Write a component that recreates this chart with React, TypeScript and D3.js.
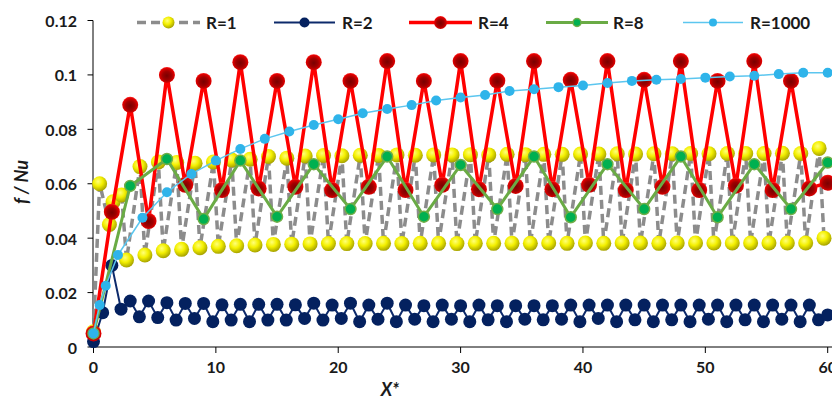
import React from "react";
import * as d3 from "d3";

// ---------- DATA ----------
const xTicks = [0, 10, 20, 30, 40, 50, 60];
const yTicks = [0, 0.02, 0.04, 0.06, 0.08, 0.1, 0.12];
const yTickLabels = ["0", "0.02", "0.04", "0.06", "0.08", "0.1", "0.12"];
const seriesNames = ["R=1", "R=2", "R=4", "R=8", "R=1000"];

const r1: [number, number][] = [
  [0, 0.0056], [0.5, 0.06], [1.3, 0.045], [1.6, 0.0534], [2.3, 0.0559], [2.7, 0.032],
  [3.8, 0.0663], [4.2, 0.0338], [5.3, 0.068], [5.7, 0.0354], [6.8, 0.0678], [7.2, 0.0359],
  [8.3, 0.0675], [8.7, 0.0365], [9.8, 0.068], [10.2, 0.037], [11.3, 0.0687], [11.7, 0.0372],
  [12.8, 0.069], [13.2, 0.0375], [14.3, 0.07], [14.7, 0.0377], [15.8, 0.0694], [16.2, 0.0378],
  [17.3, 0.0702], [17.7, 0.0379], [18.8, 0.0704], [19.2, 0.038], [20.3, 0.0703], [20.7, 0.038],
  [21.8, 0.0705], [22.2, 0.038], [23.3, 0.0704], [23.7, 0.0381], [24.8, 0.0706], [25.2, 0.038],
  [26.3, 0.0705], [26.7, 0.0381], [27.8, 0.0706], [28.2, 0.0381], [29.3, 0.0706], [29.7, 0.038],
  [30.8, 0.0707], [31.2, 0.0381], [32.3, 0.0706], [32.7, 0.0381], [33.8, 0.0708], [34.2, 0.0381],
  [35.3, 0.0707], [35.7, 0.0381], [36.8, 0.0708], [37.2, 0.0382], [38.3, 0.0708], [38.7, 0.0381],
  [39.8, 0.0709], [40.2, 0.0382], [41.3, 0.0709], [41.7, 0.0381], [42.8, 0.071], [43.2, 0.0382],
  [44.3, 0.0709], [44.7, 0.0382], [45.8, 0.071], [46.2, 0.0381], [47.3, 0.071], [47.7, 0.0382],
  [48.8, 0.0711], [49.2, 0.0382], [50.3, 0.071], [50.7, 0.0382], [51.8, 0.0711], [52.2, 0.0382],
  [53.3, 0.0711], [53.7, 0.0382], [54.8, 0.0711], [55.2, 0.0382], [56.3, 0.0712], [56.7, 0.0382],
  [57.8, 0.0711], [58.2, 0.0382], [59.3, 0.073], [59.7, 0.04],
];

const r2: [number, number][] = [
  [0, 0.002], [0.75, 0.0126], [1.5, 0.03], [2.25, 0.0139], [3, 0.0169], [3.75, 0.0111],
  [4.5, 0.0169], [5.25, 0.0108], [6, 0.0163], [6.75, 0.0099], [7.5, 0.016], [8.25, 0.0105],
  [9, 0.016], [9.75, 0.0093], [10.5, 0.0155], [11.25, 0.0099], [12, 0.0157], [12.75, 0.0093],
  [13.5, 0.0157], [14.25, 0.0099], [15, 0.0157], [15.75, 0.0099], [16.5, 0.0155], [17.25, 0.0105],
  [18, 0.0161], [18.75, 0.0099], [19.5, 0.0154], [20.25, 0.0105], [21, 0.0161], [21.75, 0.0093],
  [22.5, 0.0154], [23.25, 0.0102], [24, 0.0161], [24.75, 0.0093], [25.5, 0.0154], [26.25, 0.0102],
  [27, 0.0152], [27.75, 0.0093], [28.5, 0.0154], [29.25, 0.0102], [30, 0.0152], [30.75, 0.0093],
  [31.5, 0.0154], [32.25, 0.01], [33, 0.0152], [33.75, 0.0093], [34.5, 0.0152], [35.25, 0.0102],
  [36, 0.0152], [36.75, 0.01], [37.5, 0.0152], [38.25, 0.0102], [39, 0.0154], [39.75, 0.0093],
  [40.5, 0.0154], [41.25, 0.0105], [42, 0.0154], [42.75, 0.0093], [43.5, 0.0154], [44.25, 0.01],
  [45, 0.0154], [45.75, 0.0093], [46.5, 0.0154], [47.25, 0.01], [48, 0.0154], [48.75, 0.0093],
  [49.5, 0.0154], [50.25, 0.0102], [51, 0.0154], [51.75, 0.0093], [52.5, 0.0154], [53.25, 0.01],
  [54, 0.0154], [54.75, 0.0093], [55.5, 0.0154], [56.25, 0.0102], [57, 0.0154], [57.75, 0.0093],
  [58.5, 0.0154], [59.25, 0.01], [60, 0.0118],
];

const r4: [number, number][] = [
  [0, 0.005], [1.5, 0.0497], [3, 0.089], [4.5, 0.0463], [6, 0.1], [7.5, 0.0596],
  [9, 0.0978], [10.5, 0.0577], [12, 0.1047], [13.5, 0.0583], [15, 0.0978], [16.5, 0.0589],
  [18, 0.1047], [19.5, 0.0577], [21, 0.0978], [22.5, 0.0589], [24, 0.1051], [25.5, 0.0577],
  [27, 0.0978], [28.5, 0.0596], [30, 0.1051], [31.5, 0.058], [33, 0.0979], [34.5, 0.0592],
  [36, 0.1051], [37.5, 0.058], [39, 0.0982], [40.5, 0.0596], [42, 0.1051], [43.5, 0.0577],
  [45, 0.0982], [46.5, 0.0589], [48, 0.1051], [49.5, 0.0577], [51, 0.0978], [52.5, 0.0593],
  [54, 0.1051], [55.5, 0.0577], [57, 0.0978], [58.5, 0.0583], [60, 0.0604],
];

const r8: [number, number][] = [
  [0, 0.005], [3, 0.0592], [6, 0.0691], [9, 0.047], [12, 0.0685], [15, 0.0479],
  [18, 0.0672], [21, 0.0507], [24, 0.07], [27, 0.0479], [30, 0.0669], [33, 0.0507],
  [36, 0.07], [39, 0.0477], [42, 0.0672], [45, 0.0507], [48, 0.07], [51, 0.0477],
  [54, 0.0672], [57, 0.0507], [60, 0.0678],
];

const r1000: [number, number][] = [
  [0, 0.005], [0.5, 0.0154], [1, 0.0225], [2, 0.0338], [4, 0.0475], [6, 0.0569],
  [8, 0.0636], [10, 0.0685], [12, 0.0728], [14, 0.0765], [16, 0.0792], [18, 0.0816],
  [20, 0.0837], [22, 0.0859], [24, 0.0875], [26, 0.0889], [28, 0.0906], [30, 0.0917],
  [32, 0.0926], [34, 0.0941], [36, 0.0947], [38, 0.0955], [40, 0.0961], [42, 0.097],
  [44, 0.0978], [46, 0.0982], [48, 0.0985], [50, 0.099], [52, 0.0994], [54, 0.0997],
  [56, 0.1003], [58, 0.1008], [60, 0.1008],
];

// ---------- STYLES ----------
const W = 832;
const H = 401;
const FONT = "Lato, 'Open Sans', sans-serif";
const TXT = "#1a1a1a";

const styles = [
  { data: r1, stroke: "#8c8c8c", width: 3.5, dash: "9,5", r: 7.5, fill: "url(#gYellow)", mStroke: "none", mW: 0 },
  { data: r2, stroke: "#0d2a6b", width: 2, dash: undefined, r: 6.5, fill: "#04215f", mStroke: "none", mW: 0 },
  { data: r4, stroke: "#ff0000", width: 3.5, dash: undefined, r: 8, fill: "url(#gRed)", mStroke: "none", mW: 0 },
  { data: r8, stroke: "#6aab45", width: 3, dash: undefined, r: 5.5, fill: "#00b050", mStroke: "#70ad47", mW: 1.5 },
  { data: r1000, stroke: "#5cc6ef", width: 1.5, dash: undefined, r: 5, fill: "#2fb4ea", mStroke: "none", mW: 0 },
];

const legendPos = [
  { x0: 137, x1: 200, tx: 206 },
  { x0: 274, x1: 335, tx: 342 },
  { x0: 409, x1: 472, tx: 478 },
  { x0: 546, x1: 608, tx: 613 },
  { x0: 683, x1: 743, tx: 750 },
];

export default function App() {
  const x = d3.scaleLinear().domain([0, 60]).range([93.5, 827.7]);
  const y = d3.scaleLinear().domain([0, 0.12]).range([347, 20.5]);
  const line = d3
    .line<[number, number]>()
    .x((d) => x(d[0]))
    .y((d) => y(d[1]));
  const axisX = 93;
  const axisY = 347;
  const legendY = 22.5;

  return (
    <svg
      width={W}
      height={H}
      style={{ position: "absolute", left: 0, top: 0, background: "#fff" }}
      fontFamily={FONT}
    >
      <defs>
        <radialGradient id="gYellow" cx="0.4" cy="0.35" r="0.7">
          <stop offset="0%" stopColor="#ffff7a" />
          <stop offset="45%" stopColor="#f4f000" />
          <stop offset="100%" stopColor="#9c9800" />
        </radialGradient>
        <radialGradient id="gRed" cx="0.5" cy="0.55" r="0.55">
          <stop offset="0%" stopColor="#7a0000" />
          <stop offset="50%" stopColor="#a00000" />
          <stop offset="85%" stopColor="#e00000" />
          <stop offset="100%" stopColor="#ff2a2a" />
        </radialGradient>
      </defs>

      {/* axes */}
      <line x1={axisX} x2={axisX} y1={y(0.12)} y2={axisY} stroke="#000" strokeWidth={1} />
      <line x1={axisX} x2={W} y1={axisY} y2={axisY} stroke="#000" strokeWidth={1} />
      {yTicks.map((t, i) => (
        <g key={"yt" + i}>
          <line x1={axisX - 5.5} x2={axisX} y1={y(t)} y2={y(t)} stroke="#000" strokeWidth={1} />
          <text
            x={77}
            y={y(t)}
            textAnchor="end"
            dominantBaseline="central"
            fontSize={16}
            fontWeight={700}
            fill={TXT}
          >
            {yTickLabels[i]}
          </text>
        </g>
      ))}
      {xTicks.map((t, i) => (
        <g key={"xt" + i}>
          <line x1={x(t)} x2={x(t)} y1={axisY} y2={axisY + 6} stroke="#000" strokeWidth={1} />
          <text
            x={x(t)}
            y={366}
            textAnchor="middle"
            dominantBaseline="central"
            fontSize={16}
            fontWeight={700}
            fill={TXT}
          >
            {t}
          </text>
        </g>
      ))}
      <text x={390} y={389} textAnchor="middle" dominantBaseline="central" fontSize={18} fontWeight={700} fontStyle="italic" fill={TXT}>
        X*
      </text>
      <text
        transform="translate(21,182) rotate(-90)"
        textAnchor="middle"
        dominantBaseline="central"
        fontSize={18}
        fontWeight={700}
        fontStyle="italic"
        fill={TXT}
      >
        f / Nu
      </text>

      {/* series */}
      {styles.map((s, si) => (
        <g key={"s" + si}>
          <path
            d={line(s.data) || ""}
            fill="none"
            stroke={s.stroke}
            strokeWidth={s.width}
            strokeDasharray={s.dash}
            strokeLinejoin="round"
          />
          {s.data.map((d, i) => (
            <circle
              key={i}
              cx={x(d[0])}
              cy={y(d[1])}
              r={s.r}
              fill={s.fill}
              stroke={s.mStroke}
              strokeWidth={s.mW}
            />
          ))}
        </g>
      ))}

      {/* legend */}
      {styles.map((s, si) => {
        const p = legendPos[si];
        return (
          <g key={"lg" + si}>
            <line
              x1={p.x0}
              x2={p.x1}
              y1={legendY}
              y2={legendY}
              stroke={s.stroke}
              strokeWidth={s.width}
              strokeDasharray={s.dash}
            />
            <circle
              cx={(p.x0 + p.x1) / 2}
              cy={legendY}
              r={Math.max(s.r - 1.5, 4)}
              fill={s.fill}
              stroke={s.mStroke}
              strokeWidth={s.mW}
            />
            <text
              x={p.tx}
              y={legendY}
              dominantBaseline="central"
              fontSize={17}
              fontWeight={700}
              fill={TXT}
            >
              {seriesNames[si]}
            </text>
          </g>
        );
      })}
    </svg>
  );
}
